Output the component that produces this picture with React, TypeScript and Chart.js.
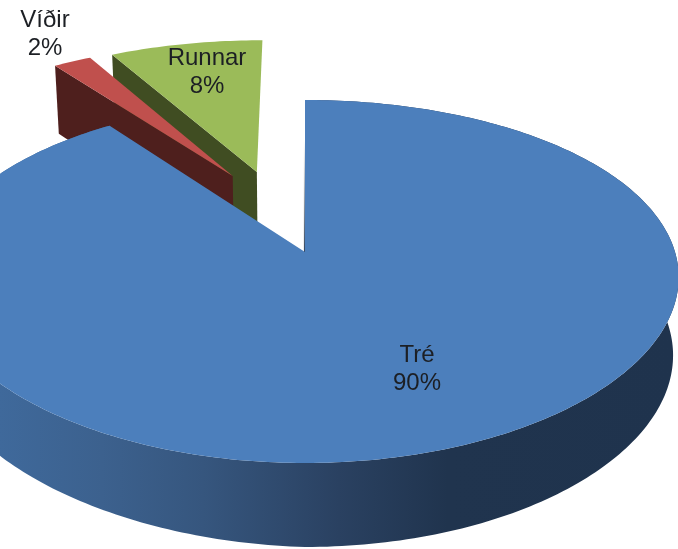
import React, { useEffect, useRef } from "react";
import { Chart, registerables } from "chart.js";

Chart.register(...registerables);

const categories = ["Tré", "Víðir", "Runnar"];
const shares = [90, 2, 8];

const topColors = ["#4c7fbc", "#c0504d", "#9bbb59"];
const sideColors = ["#1f334d", "#4e1f1d", "#404d22"];
const explodePx = [0, 102, 102];

// Oblique view of the pie: perspective, tilt, and extrusion
const PERSPECTIVE_X = 0.14;
const PERSPECTIVE_Y = 0.1625;
const SCALE_X = 370;
const SCALE_Y = 176.7;
const DEPTH_BASE = 77;
const DEPTH_SLOPE = 7;
const DEPTH_LEFT_TRIM = 12;
const BASE_SHRINK = 0.985;
const explodeTurnDeg = [0, 8.2, -1.5];
const labelCentres = [
  [417, 355],
  [45, 20],
  [207, 58],
];
const LINE_GAP = 28.5;

type Pt = [number, number];

const pie3d = {
  id: "pie3d",
  beforeDatasetDraw(chart: any) {
    const ctx: CanvasRenderingContext2D = chart.ctx;
    const arcs = chart.getDatasetMeta(0).data as any[];

    const sliceGeometry = (i: number) => {
      const arc = arcs[i];
      const R = arc.outerRadius;
      const mid = (arc.startAngle + arc.endAngle) / 2 + (explodeTurnDeg[i] * Math.PI) / 180;
      const d = (arc.options.offset || 0) / R;
      const ox = Math.cos(mid) * d;
      const oy = Math.sin(mid) * d;
      const top = (u: number, v: number): Pt => [
        arc.x + (SCALE_X * u) / (1 - PERSPECTIVE_X * v),
        arc.y + (SCALE_Y * v) / (1 - PERSPECTIVE_Y * v),
      ];
      const low = (u: number, v: number): Pt => {
        const p = top(u, v);
        const depth =
          DEPTH_BASE + DEPTH_SLOPE * v - DEPTH_LEFT_TRIM * Math.max(-u, 0) * Math.max(v, 0);
        return [arc.x + (p[0] - arc.x) * BASE_SHRINK, p[1] + depth];
      };
      const n = Math.max(2, Math.ceil(((arc.endAngle - arc.startAngle) * 180) / Math.PI));
      const rim: Pt[] = [];
      for (let k = 0; k <= n; k++) {
        const a = arc.startAngle + ((arc.endAngle - arc.startAngle) * k) / n;
        rim.push([ox + Math.cos(a), oy + Math.sin(a)]);
      }
      return { rim, apex: [ox, oy] as Pt, top, low };
    };

    const poly = (pts: Pt[]) => {
      ctx.beginPath();
      pts.forEach((p, i) => (i ? ctx.lineTo(p[0], p[1]) : ctx.moveTo(p[0], p[1])));
      ctx.closePath();
    };

    const rimShade = ctx.createLinearGradient(0, 0, 678, 0);
    rimShade.addColorStop(0, "#3f699b");
    rimShade.addColorStop(0.15, "#3c618e");
    rimShade.addColorStop(0.3, "#36567e");
    rimShade.addColorStop(0.5, "#2a4161");
    rimShade.addColorStop(0.66, "#20344e");
    rimShade.addColorStop(1, "#1f334d");

    ctx.save();
    [2, 1, 0].forEach((i) => {
      const { rim, apex, top, low } = sliceGeometry(i);
      const first = rim[0];

      if (i === 0) {
        // outer wall of the main slice
        const wall: Pt[] = rim.map((p) => top(p[0], p[1]));
        for (let k = rim.length - 1; k >= 0; k--) wall.push(low(rim[k][0], rim[k][1]));
        poly(wall);
        ctx.fillStyle = rimShade;
        ctx.fill();

        // the edge-on wall along the open side shows as a hairline
        const a = top(first[0], first[1]);
        const b = top(apex[0], apex[1]);
        const hair = ctx.createLinearGradient(0, a[1] + 40, 0, b[1]);
        hair.addColorStop(0, "rgba(31,51,77,0)");
        hair.addColorStop(1, "rgba(31,51,77,0.9)");
        ctx.strokeStyle = hair;
        ctx.lineWidth = 1.2;
        ctx.beginPath();
        ctx.moveTo(a[0] - 0.5, a[1]);
        ctx.lineTo(b[0] - 0.5, b[1]);
        ctx.stroke();
      } else {
        // the radial wall that faces the viewer
        poly([top(first[0], first[1]), top(apex[0], apex[1]), low(apex[0], apex[1]), low(first[0], first[1])]);
        ctx.fillStyle = sideColors[i];
        ctx.fill();
      }

      // top face
      poly([top(apex[0], apex[1]), ...rim.map((p) => top(p[0], p[1]))]);
      ctx.fillStyle = topColors[i];
      ctx.fill();
    });
    ctx.restore();
    return false;
  },
  afterDatasetsDraw(chart: any) {
    const ctx: CanvasRenderingContext2D = chart.ctx;
    ctx.save();
    ctx.font = '24px "Liberation Sans", Arial, sans-serif';
    ctx.textAlign = "center";
    ctx.textBaseline = "middle";
    ctx.fillStyle = "#1c1f24";
    categories.forEach((name, i) => {
      const [x, y] = labelCentres[i];
      ctx.fillText(name, x, y);
      ctx.fillText(`${shares[i]}%`, x, y + LINE_GAP);
    });
    ctx.restore();
  },
};

export default function App() {
  const ref = useRef<HTMLCanvasElement>(null);

  useEffect(() => {
    const chart = new Chart(ref.current as HTMLCanvasElement, {
      type: "pie",
      data: {
        labels: categories,
        datasets: [
          {
            data: shares,
            backgroundColor: topColors,
            borderWidth: 0,
            offset: explodePx,
          },
        ],
      },
      options: {
        responsive: false,
        animation: false,
        devicePixelRatio: 1,
        rotation: 0,
        layout: { padding: { right: 68, bottom: 45 } },
        plugins: { legend: { display: false }, tooltip: { enabled: false } },
      },
      plugins: [pie3d],
    } as any);
    return () => chart.destroy();
  }, []);

  return (
    <canvas
      ref={ref}
      width={678}
      height={549}
      style={{
        position: "absolute",
        left: 0,
        top: 0,
        width: 678,
        height: 549,
        filter: "blur(0.6px)",
      }}
    />
  );
}
